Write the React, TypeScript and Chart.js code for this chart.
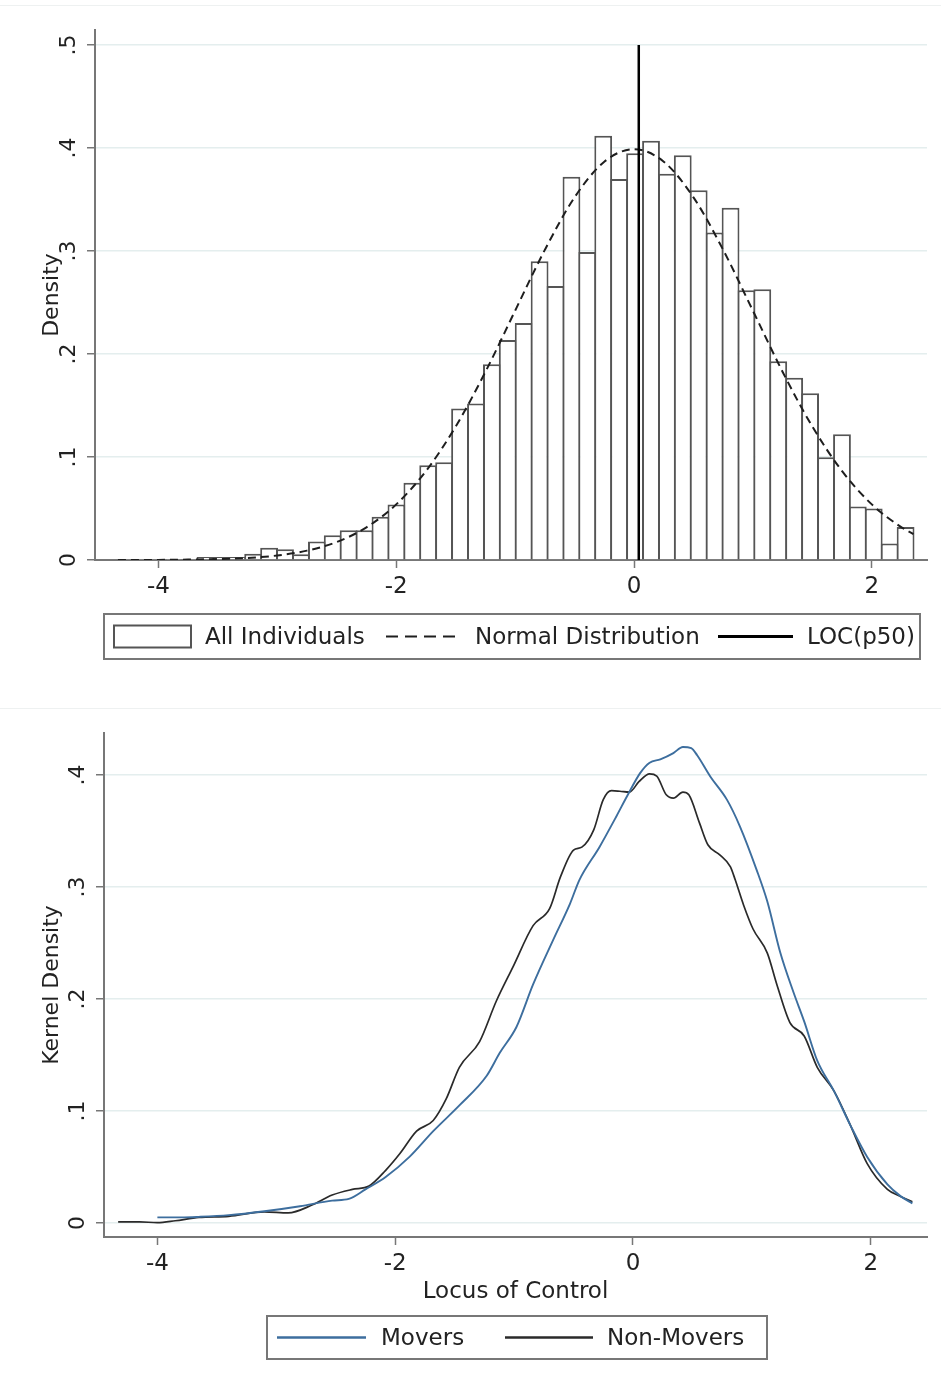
import React, { useEffect, useRef } from "react";
import { Chart, registerables } from "chart.js";

Chart.register(...registerables);

// ---------- Top panel: histogram of Locus of Control ----------
const binCenters = [
  -4.273, -4.139, -4.005, -3.872, -3.738, -3.604, -3.47, -3.336, -3.203, -3.069,
  -2.935, -2.801, -2.667, -2.534, -2.4, -2.266, -2.132, -1.998, -1.864, -1.731,
  -1.597, -1.463, -1.329, -1.195, -1.062, -0.928, -0.794, -0.66, -0.526, -0.393,
  -0.259, -0.125, 0.009, 0.143, 0.277, 0.41, 0.544, 0.678, 0.812, 0.946,
  1.079, 1.213, 1.347, 1.481, 1.615, 1.749, 1.882, 2.016, 2.15, 2.284,
];
const binDensity = [
  0.001, 0.001, 0.001, 0.001, 0.001, 0.003, 0.003, 0.003, 0.006, 0.012,
  0.0104, 0.0055, 0.018, 0.024, 0.029, 0.029, 0.042, 0.054, 0.075, 0.092,
  0.095, 0.147, 0.152, 0.19, 0.2135, 0.23, 0.29, 0.266, 0.372, 0.299,
  0.412, 0.37, 0.395, 0.407, 0.375, 0.393, 0.359, 0.318, 0.342, 0.262,
  0.263, 0.193, 0.177, 0.162, 0.0997, 0.122, 0.052, 0.05, 0.016, 0.032,
];
const normalX = [
  -4.34, -4, -3.75, -3.5, -3.25, -3, -2.75, -2.5, -2.25, -2, -1.75, -1.5, -1.25, -1,
  -0.75, -0.5, -0.25, 0, 0.25, 0.5, 0.75, 1, 1.25, 1.5, 1.75, 2, 2.25, 2.35,
];
const normalY = [
  0.00003, 0.0001, 0.0004, 0.0009, 0.002, 0.0044, 0.0091, 0.0175, 0.0317, 0.054, 0.0863,
  0.1295, 0.1826, 0.242, 0.3011, 0.3521, 0.3867, 0.3989, 0.3867, 0.3521, 0.3011, 0.242,
  0.1826, 0.1295, 0.0863, 0.054, 0.0317, 0.0252,
];
const locMedian = 0.04;
const locLineSpan = [0, 0.5];
const histYTicks = [0, 0.1, 0.2, 0.3, 0.4, 0.5];
const histYTickLabels = ["0", ".1", ".2", ".3", ".4", ".5"];

const xTicks = [-4, -2, 0, 2];
const xTickLabels = ["-4", "-2", "0", "2"];

// ---------- Bottom panel: kernel densities ----------
const moversX = [
  -4.0, -3.8, -3.65, -3.4, -3.1, -2.8, -2.53, -2.39, -2.25, -2.08, -1.88, -1.68, -1.46,
  -1.23, -1.12, -0.98, -0.84, -0.67, -0.53, -0.45, -0.28, -0.14, -0.05, 0.06, 0.14, 0.23,
  0.34, 0.42, 0.49, 0.54, 0.65, 0.79, 0.9, 1.04, 1.13, 1.24, 1.35, 1.44, 1.55, 1.69, 1.83,
  1.97, 2.14, 2.25, 2.35,
];
const moversY = [
  0.005, 0.005, 0.0055, 0.007, 0.0105, 0.015, 0.02, 0.0215, 0.03, 0.041, 0.059, 0.082, 0.105,
  0.1315, 0.152, 0.175, 0.213, 0.253, 0.285, 0.3064, 0.336, 0.363, 0.381, 0.4017, 0.411, 0.414,
  0.4196, 0.425, 0.424, 0.4176, 0.3987, 0.378, 0.354, 0.3153, 0.287, 0.241, 0.206, 0.18, 0.145,
  0.118, 0.087, 0.059, 0.0345, 0.024, 0.0175,
];
const nonMoversX = [
  -4.33, -4.15, -4.0, -3.85, -3.65, -3.4, -3.1, -2.9, -2.7, -2.53, -2.36, -2.22, -2.08, -1.96,
  -1.82, -1.68, -1.57, -1.46, -1.29, -1.15, -1.01, -0.84, -0.7, -0.61, -0.5, -0.43, -0.33,
  -0.25, -0.18, -0.11, -0.03, 0.05, 0.14, 0.2, 0.28, 0.34, 0.42, 0.47, 0.56, 0.63, 0.73, 0.82,
  0.86, 0.93, 1.01, 1.13, 1.21, 1.32, 1.44, 1.55, 1.69, 1.83, 1.97, 2.14, 2.25, 2.35,
];
const nonMoversY = [
  0.001, 0.001, 0.0003, 0.002, 0.005, 0.006, 0.01, 0.009, 0.016, 0.025, 0.03, 0.033, 0.047,
  0.062, 0.082, 0.0915, 0.111, 0.139, 0.162, 0.198, 0.2285, 0.2655, 0.281, 0.309, 0.333,
  0.3356, 0.351, 0.378, 0.386, 0.3855, 0.3847, 0.394, 0.401, 0.399, 0.3823, 0.3793, 0.3847,
  0.3823, 0.357, 0.3377, 0.3287, 0.318, 0.3064, 0.284, 0.2625, 0.241, 0.213, 0.179, 0.167,
  0.139, 0.118, 0.087, 0.053, 0.03, 0.0237, 0.019,
];
const kdYTicks = [0, 0.1, 0.2, 0.3, 0.4];
const kdYTickLabels = ["0", ".1", ".2", ".3", ".4"];

// ---------- styling ----------
const FONT = "'DejaVu Sans', 'Noto Sans', sans-serif";
const TEXT = "#222";
const AXIS = "#777";
const GRID = "#e4eeee";
const BLUE = "#3d6e9e";
const DARK = "#2a2a2a";

const pts = (xs: number[], ys: number[]) => xs.map((x, i) => ({ x, y: ys[i] }));

const boxLegendPlugin = {
  id: "boxLegend",
  afterDraw(chart: any, _args: any, opts: any) {
    if (!opts || !opts.items) return;
    const ctx = chart.ctx as CanvasRenderingContext2D;
    const { left, top, width, height, items } = opts;
    ctx.save();
    ctx.fillStyle = "#fff";
    ctx.fillRect(left, top, width, height);
    ctx.strokeStyle = AXIS;
    ctx.lineWidth = 2;
    ctx.strokeRect(left, top, width, height);
    const cy = top + height / 2;
    ctx.font = `${opts.fontSize}px ${FONT}`;
    ctx.textBaseline = "middle";
    ctx.textAlign = "left";
    for (const it of items) {
      const ds = chart.data.datasets[it.dataset];
      const sx = left + it.symX;
      ctx.setLineDash([]);
      if (it.kind === "box") {
        ctx.lineWidth = 2;
        ctx.strokeStyle = ds.borderColor;
        ctx.strokeRect(sx, cy - it.symH / 2, it.symW, it.symH);
      } else {
        ctx.beginPath();
        ctx.setLineDash(it.dash || []);
        ctx.lineWidth = it.lineWidth;
        ctx.strokeStyle = ds.borderColor;
        ctx.moveTo(sx, cy);
        ctx.lineTo(sx + it.symW, cy);
        ctx.stroke();
        ctx.setLineDash([]);
      }
      ctx.fillStyle = TEXT;
      ctx.fillText(ds.label, left + it.textX, cy + 2);
    }
    ctx.restore();
  },
};

function xScale(min: number, max: number, height: number, title?: string) {
  return {
    type: "linear",
    min,
    max,
    offset: false,
    afterBuildTicks: (s: any) => {
      s.ticks = xTicks.map((v) => ({ value: v }));
    },
    afterFit: (s: any) => {
      s.height = height;
    },
    ticks: {
      callback: (_v: any, i: number) => xTickLabels[i],
      font: { size: 23, family: FONT },
      color: TEXT,
      padding: 5,
      minRotation: 0,
      maxRotation: 0,
      autoSkip: false,
    },
    grid: {
      offset: false,
      drawOnChartArea: false,
      drawTicks: true,
      tickLength: 8,
      tickColor: AXIS,
      tickWidth: 1.5,
    },
    border: { color: AXIS, width: 2 },
    title: title
      ? { display: true, text: title, font: { size: 23, family: FONT }, color: TEXT, padding: { top: 0, bottom: 1 } }
      : { display: false },
  };
}

function yScale(min: number, max: number, width: number, ticks: number[], labels: string[], title: string) {
  return {
    type: "linear",
    min,
    max,
    afterBuildTicks: (s: any) => {
      s.ticks = ticks.map((v) => ({ value: v }));
    },
    afterFit: (s: any) => {
      s.width = width;
    },
    ticks: {
      callback: (_v: any, i: number) => labels[i],
      font: { size: 22, family: FONT },
      color: TEXT,
      minRotation: 90,
      maxRotation: 90,
      crossAlign: "center",
      padding: 7,
      autoSkip: false,
    },
    grid: {
      color: GRID,
      lineWidth: 1.5,
      drawTicks: true,
      tickLength: 8,
      tickColor: AXIS,
      tickWidth: 1.5,
    },
    border: { color: AXIS, width: 2 },
    title: {
      display: true,
      text: title,
      font: { size: 22, family: FONT },
      color: TEXT,
      padding: { top: 39, bottom: 0 },
    },
  };
}

export default function App() {
  const ref1 = useRef<HTMLCanvasElement>(null);
  const ref2 = useRef<HTMLCanvasElement>(null);

  useEffect(() => {
    Chart.defaults.font.family = FONT;
    Chart.defaults.color = TEXT;

    const cfg1: any = {
      type: "bar",
      data: {
        datasets: [
          {
            type: "bar",
            label: "All Individuals",
            data: pts(binCenters, binDensity),
            backgroundColor: "#ffffff",
            borderColor: "#555555",
            borderWidth: 2,
            borderSkipped: "start",
            barPercentage: 1.126,
            categoryPercentage: 1,
            order: 3,
          },
          {
            type: "line",
            label: "Normal Distribution",
            data: pts(normalX, normalY),
            borderColor: "#1e1e1e",
            borderWidth: 2,
            borderDash: [8, 5],
            pointRadius: 0,
            fill: false,
            cubicInterpolationMode: "monotone",
            order: 2,
          },
          {
            type: "line",
            label: "LOC(p50)",
            data: locLineSpan.map((y) => ({ x: locMedian, y })),
            borderColor: "#000",
            borderWidth: 2.5,
            pointRadius: 0,
            fill: false,
            order: 1,
          },
        ],
      },
      options: {
        responsive: false,
        animation: false,
        layout: { padding: { left: 0, right: 14, top: 30, bottom: 100 } },
        plugins: {
          legend: { display: false },
          tooltip: { enabled: false },
          boxLegend: {
            left: 104,
            top: 614,
            width: 816,
            height: 45,
            fontSize: 23,
            items: [
              { dataset: 0, kind: "box", symX: 10, symW: 77, symH: 22, textX: 101 },
              { dataset: 1, kind: "line", dash: [12, 7], lineWidth: 2, symX: 282, symW: 74, textX: 371 },
              { dataset: 2, kind: "line", lineWidth: 3, symX: 614, symW: 75, textX: 703 },
            ],
          },
        },
        scales: {
          x: xScale(-4.533, 2.464, 40),
          y: yScale(0, 0.5146, 95, histYTicks, histYTickLabels, "Density"),
        },
      },
      plugins: [boxLegendPlugin],
    };

    const cfg2: any = {
      type: "line",
      data: {
        datasets: [
          {
            label: "Movers",
            data: pts(moversX, moversY),
            borderColor: BLUE,
            borderWidth: 1.9,
            pointRadius: 0,
            fill: false,
            cubicInterpolationMode: "monotone",
          },
          {
            label: "Non-Movers",
            data: pts(nonMoversX, nonMoversY),
            borderColor: DARK,
            borderWidth: 1.7,
            pointRadius: 0,
            fill: false,
            cubicInterpolationMode: "monotone",
          },
        ],
      },
      options: {
        responsive: false,
        animation: false,
        layout: { padding: { left: 0, right: 14, top: 33, bottom: 74 } },
        plugins: {
          legend: { display: false },
          tooltip: { enabled: false },
          boxLegend: {
            left: 267,
            top: 616,
            width: 500,
            height: 43,
            fontSize: 23,
            items: [
              { dataset: 0, kind: "line", lineWidth: 2.5, symX: 10, symW: 89, textX: 114 },
              { dataset: 1, kind: "line", lineWidth: 2.5, symX: 238, symW: 88, textX: 340 },
            ],
          },
        },
        scales: {
          x: xScale(-4.449, 2.473, 70, "Locus of Control"),
          y: yScale(-0.0125, 0.4375, 104, kdYTicks, kdYTickLabels, "Kernel Density"),
        },
      },
      plugins: [boxLegendPlugin],
    };

    const c1 = new Chart(ref1.current as HTMLCanvasElement, cfg1);
    const c2 = new Chart(ref2.current as HTMLCanvasElement, cfg2);
    return () => {
      c1.destroy();
      c2.destroy();
    };
  }, []);

  return (
    <div
      style={{
        position: "absolute",
        left: 0,
        top: 0,
        width: 941,
        height: 1381,
        background: "#fff",
        overflow: "hidden",
      }}
    >
      <div style={{ position: "absolute", left: 0, top: 5, width: 941, height: 1, background: "#eef1f1" }} />
      <div style={{ position: "absolute", left: 0, top: 708, width: 941, height: 1, background: "#eef1f1" }} />
      <canvas
        ref={ref1}
        width={941}
        height={700}
        style={{ position: "absolute", left: 0, top: 0, width: 941, height: 700 }}
      />
      <canvas
        ref={ref2}
        width={941}
        height={681}
        style={{ position: "absolute", left: 0, top: 700, width: 941, height: 681 }}
      />
    </div>
  );
}
